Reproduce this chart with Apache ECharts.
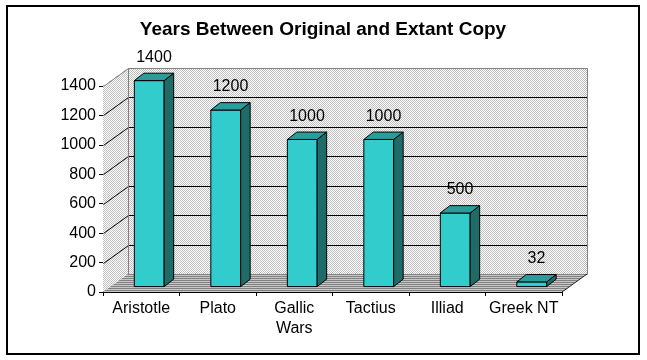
<!DOCTYPE html>
<html>
<head>
<meta charset="utf-8">
<script src="https://cdn.jsdelivr.net/npm/echarts@6/dist/echarts.min.js"></script>
<style>
html,body{margin:0;padding:0;background:#fff;}
#chart{width:647px;height:360px;}
</style>
</head>
<body>
<div id="chart"></div>
<script>
// ---- data ----
var categories = ['Aristotle', 'Plato', 'Gallic\nWars', 'Tactius', 'Illiad', 'Greek NT'];
var yearsGap = [1400, 1200, 1000, 1000, 500, 32];
var yTicks = [0, 200, 400, 600, 800, 1000, 1200, 1400];
var chartTitle = 'Years Between Original and Extant Copy';

// ---- styles ----
var FONT = '"Liberation Sans", Arial, sans-serif';
var WALL_DX = 25, WALL_DY = -18;     // depth of the 3D box
var BAR_OX = 8, BAR_OY = -5.4;       // bar front face depth shift
var BAR_DX = 9.5, BAR_DY = -7.4;     // bar depth
var BAR_W = 0.39;                     // fraction of band

function makePattern(kind) {
  var c = document.createElement('canvas');
  c.width = 2; c.height = 2;
  var g = c.getContext('2d');
  if (kind === 'checker') {
    g.fillStyle = '#ffffff'; g.fillRect(0, 0, 2, 2);
    g.fillStyle = '#c0c0c0'; g.fillRect(0, 0, 1, 1); g.fillRect(1, 1, 1, 1);
  } else {
    g.fillStyle = '#c8c8c8'; g.fillRect(0, 0, 2, 2);
    g.fillStyle = '#808080'; g.fillRect(0, 0, 2, 1);
  }
  return { image: c, repeat: 'repeat' };
}
var checker = makePattern('checker');
var stripes = makePattern('stripes');

var chart = echarts.init(document.getElementById('chart'), null, { renderer: 'canvas' });

function r(v) { return Math.round(v) + 0.5; }

function renderWalls(params, api) {
  var cs = params.coordSys;
  var gx = cs.x, gy = cs.y, gw = cs.width, gh = cs.height;
  var children = [];
  children.push({ type: 'rect', shape: { x: gx + WALL_DX, y: gy + WALL_DY, width: gw, height: gh },
    style: { fill: checker, stroke: null } });
  children.push({ type: 'polygon', shape: { points: [[gx, gy + gh], [gx, gy], [gx + WALL_DX, gy + WALL_DY], [gx + WALL_DX, gy + gh + WALL_DY]] },
    style: { fill: checker, stroke: null } });
  children.push({ type: 'polygon', shape: { points: [[gx, gy + gh], [gx + gw, gy + gh], [gx + gw + WALL_DX, gy + gh + WALL_DY], [gx + WALL_DX, gy + gh + WALL_DY]] },
    style: { fill: stripes, stroke: null } });
  for (var k = 0; k < yTicks.length; k++) {
    var t = yTicks[k];
    if (t === 0) continue;
    var yv = api.coord([0, t])[1];
    var col = (t === yTicks[yTicks.length - 1]) ? '#808080' : '#000000';
    children.push({ type: 'line', shape: { x1: r(gx + WALL_DX), y1: r(yv + WALL_DY), x2: r(gx + WALL_DX + gw), y2: r(yv + WALL_DY) },
      style: { stroke: col, lineWidth: 1 } });
    children.push({ type: 'line', shape: { x1: r(gx), y1: r(yv), x2: r(gx + WALL_DX), y2: r(yv + WALL_DY) },
      style: { stroke: col, lineWidth: 1 } });
  }
  children.push({ type: 'line', shape: { x1: r(gx + WALL_DX), y1: r(gy + WALL_DY), x2: r(gx + WALL_DX), y2: r(gy + gh + WALL_DY) },
    style: { stroke: '#808080', lineWidth: 1 } });
  children.push({ type: 'line', shape: { x1: r(gx + WALL_DX + gw), y1: r(gy + WALL_DY), x2: r(gx + WALL_DX + gw), y2: r(gy + gh + WALL_DY) },
    style: { stroke: '#808080', lineWidth: 1 } });
  children.push({ type: 'line', shape: { x1: r(gx + WALL_DX), y1: r(gy + gh + WALL_DY), x2: r(gx + WALL_DX + gw), y2: r(gy + gh + WALL_DY) },
    style: { stroke: '#808080', lineWidth: 1 } });
  children.push({ type: 'line', shape: { x1: gx + gw, y1: gy + gh, x2: gx + gw + WALL_DX, y2: gy + gh + WALL_DY },
    style: { stroke: '#202020', lineWidth: 1 } });
  return { type: 'group', children: children };
}

function renderBar(params, api) {
  var idx = api.value(0), val = api.value(1);
  var base = api.coord([idx, 0]);
  var top = api.coord([idx, val]);
  var band = api.size([1, 0])[0];
  var w = band * BAR_W;
  var xl = base[0] - w / 2 + BAR_OX, xr = base[0] + w / 2 + BAR_OX;
  var yb = base[1] + BAR_OY, yt = top[1] + BAR_OY;
  var lineStyle = { stroke: '#000', lineWidth: 1 };
  return {
    type: 'group',
    children: [
      { type: 'polygon', shape: { points: [[xl, yb], [xr, yb], [xr, yt], [xl, yt]] },
        style: Object.assign({ fill: '#33cccc' }, lineStyle) },
      { type: 'polygon', shape: { points: [[xr, yb], [xr, yt], [xr + BAR_DX, yt + BAR_DY], [xr + BAR_DX, yb + BAR_DY]] },
        style: Object.assign({ fill: '#1f6b68' }, lineStyle) },
      { type: 'polygon', shape: { points: [[xl, yt], [xr, yt], [xr + BAR_DX, yt + BAR_DY], [xl + BAR_DX, yt + BAR_DY]] },
        style: Object.assign({ fill: '#2a9c99' }, lineStyle) },
      { type: 'text', style: { text: String(val), x: (xl + xr) / 2 + BAR_DX / 2, y: yt - 23,
          align: 'center', verticalAlign: 'middle', fill: '#000', font: '16px ' + FONT } }
    ]
  };
}

var option = {
  animation: false,
  backgroundColor: '#ffffff',
  title: {
    text: chartTitle,
    left: 318, top: 15, textAlign: 'center',
    textStyle: { fontFamily: FONT, fontSize: 19, fontWeight: 'bold', color: '#000' }
  },
  grid: { left: 103, right: 85, top: 86, bottom: 68, containLabel: false },
  xAxis: {
    type: 'category', data: categories,
    axisLine: { show: true, lineStyle: { color: '#000', width: 1 } },
    axisTick: { show: true, length: 4, lineStyle: { color: '#000' } },
    axisLabel: { color: '#000', fontSize: 16, fontFamily: FONT, margin: 7, lineHeight: 20, interval: 0 },
    splitLine: { show: false }
  },
  yAxis: {
    type: 'value', min: 0, max: 1400, interval: 200,
    axisLine: { show: true, lineStyle: { color: '#000', width: 1 } },
    axisTick: { show: true, length: 4, lineStyle: { color: '#000' } },
    axisLabel: { color: '#000', fontSize: 16, fontFamily: FONT, margin: 7,
      formatter: function (v) { return String(v); } },
    splitLine: { show: false }
  },
  graphic: [
    { type: 'rect', shape: { x: 7, y: 6, width: 632, height: 348 },
      style: { fill: null, stroke: '#000', lineWidth: 2 }, z: 100, silent: true }
  ],
  series: [
    { type: 'custom', name: 'walls', z: 1, clip: false, renderItem: renderWalls, data: [[0, 0]], silent: true },
    { type: 'custom', name: 'years', z: 5, clip: false, renderItem: renderBar,
      data: yearsGap.map(function (v, i) { return [i, v]; }), encode: { x: 0, y: 1 } }
  ]
};
chart.setOption(option);
</script>
</body>
</html>
